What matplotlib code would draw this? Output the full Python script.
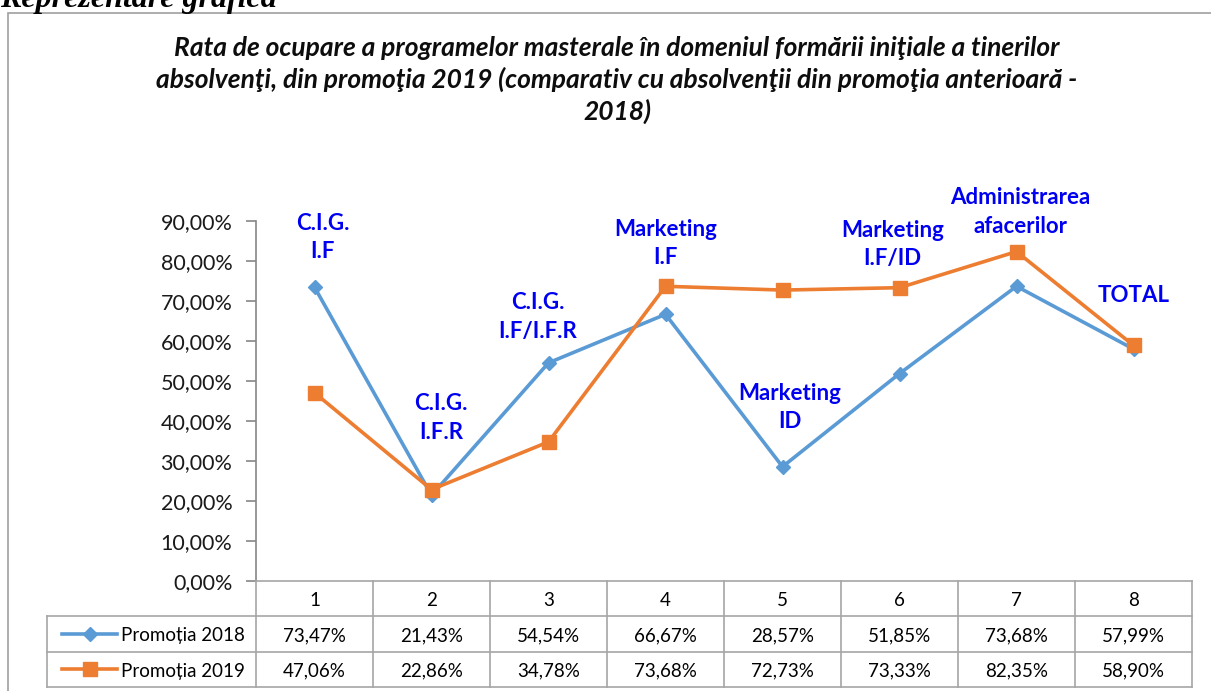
import matplotlib
matplotlib.use('Agg')
import matplotlib.pyplot as plt
from matplotlib.ticker import FuncFormatter, MultipleLocator
from matplotlib.lines import Line2D
import matplotlib.patches as mpatches

plt.rcParams['font.family'] = ['Lato', 'DejaVu Sans']

# data
categories = [1, 2, 3, 4, 5, 6, 7, 8]
prom2018 = [73.47, 21.43, 54.54, 66.67, 28.57, 51.85, 73.68, 57.99]
prom2019 = [47.06, 22.86, 34.78, 73.68, 72.73, 73.33, 82.35, 58.90]
series_names = ["Promoția 2018", "Promoția 2019"]
point_labels = ["C.I.G.\nI.F", "C.I.G.\nI.F.R", "C.I.G.\nI.F/I.F.R", "Marketing\nI.F",
                "Marketing\nID", "Marketing\nI.F/ID", "Administrarea\nafacerilor", "TOTAL"]
label_x = [1.07, 2.08, 2.91, 4.0, 5.06, 5.94, 7.03, 8.0]
label_y = [85.9, 40.8, 66.0, 84.4, 43.4, 84.1, 92.2, 71.5]
title = ("Rata de ocupare a programelor masterale în domeniul formării iniţiale a tinerilor\n"
         "absolvenţi, din promoţia 2019 (comparativ cu absolvenţii din promoţia anterioară -\n"
         "2018)")

blue = '#5B9BD5'
orange = '#ED7D31'
grid_c = '#A6A6A6'

W, H = 1211, 691
fig = plt.figure(figsize=(W / 100, H / 100), dpi=100)

# outer frame and page heading (cut off at the top, as in the source page)
fig.add_artist(mpatches.Rectangle((8 / W, -0.1), 1.2, 1 - 13 / H + 0.1, transform=fig.transFigure,
                                  fill=False, ec='#A0A0A0', lw=1.2))
fig.text(0.0, 1 - 7 / H, "Reprezentare grafică", family='Liberation Serif', weight='bold',
         style='italic', fontsize=23, va='baseline', ha='left')
fig.text(617 / W, 1 - 80 / H, title, ha='center', va='center', fontsize=19, weight='bold',
         style='italic', linespacing=1.32, color='#0D0D0D')

# main plot
ax = fig.add_axes([256 / W, 1 - 581 / H, 936 / W, 360 / H])
ax.plot(categories, prom2018, color=blue, lw=2.6, marker='D', ms=7, mec=blue, mfc=blue, zorder=3)
ax.plot(categories, prom2019, color=orange, lw=2.6, marker='s', ms=10, mec=orange, mfc=orange, zorder=3)
ax.set_xlim(0.5, 8.5)
ax.set_ylim(0, 90)
ax.yaxis.set_major_locator(MultipleLocator(10))
ax.yaxis.set_major_formatter(FuncFormatter(lambda v, p: ("%.2f%%" % v).replace('.', ',')))
ax.set_xticks([])
for s in ['top', 'right']:
    ax.spines[s].set_visible(False)
ax.spines['left'].set_color('#868686')
ax.spines['bottom'].set_color(grid_c)
ax.spines['left'].set_linewidth(1.2)
ax.spines['bottom'].set_linewidth(1.2)
ax.tick_params(axis='y', length=7, width=1.2, color='#868686', labelsize=15.5,
               labelcolor='#1a1a1a', pad=10)

for lx, ly, txt in zip(label_x, label_y, point_labels):
    ax.text(lx, ly, txt, ha='center', va='center', color='#0000F0', weight='bold',
            fontsize=16, linespacing=1.45, clip_on=False)

# data table under the axis
tab = fig.add_axes([256 / W, 1 - 687 / H, 936 / W, 106 / H], sharex=ax)
tab.set_ylim(3, 0)
tab.axis('off')
left_edge = 0.5 - (256 - 47) / 117
for yy in [1, 2, 3]:
    tab.add_line(Line2D([left_edge, 8.5], [yy, yy], color=grid_c, lw=1.2, clip_on=False))
for k in range(9):
    tab.add_line(Line2D([0.5 + k, 0.5 + k], [0, 3], color=grid_c, lw=1.2, clip_on=False))
tab.add_line(Line2D([left_edge, left_edge], [1, 3], color=grid_c, lw=1.2, clip_on=False))

for i, c in enumerate(categories):
    tab.text(c, 0.55, str(c), ha='center', va='center', fontsize=13.5)
    tab.text(c, 1.55, ("%.2f%%" % prom2018[i]).replace('.', ','), ha='center', va='center', fontsize=13.5)
    tab.text(c, 2.55, ("%.2f%%" % prom2019[i]).replace('.', ','), ha='center', va='center', fontsize=13.5)

key_x0 = 0.5 - (256 - 62) / 117
key_x1 = 0.5 - (256 - 117) / 117
for row, (name, col, mk, ms) in enumerate(zip(series_names, [blue, orange], ['D', 's'], [7, 10])):
    yy = row + 1.5
    tab.add_line(Line2D([key_x0, key_x1], [yy, yy], color=col, lw=2.6, clip_on=False))
    tab.add_line(Line2D([(key_x0 + key_x1) / 2], [yy], color=col, marker=mk, ms=ms, lw=0, clip_on=False))
    tab.text(key_x1 + 0.035, yy + 0.05, name, ha='left', va='center', fontsize=13.5)

fig.savefig("out.png", dpi=100)
